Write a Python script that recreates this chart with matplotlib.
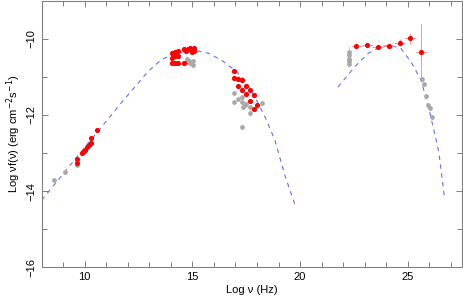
import matplotlib
matplotlib.use("Agg")
import matplotlib.pyplot as plt
from matplotlib.ticker import MultipleLocator

plt.rcParams['font.family'] = ['Liberation Sans', 'DejaVu Sans']

# Radio (red)
radio_x = [9.64, 9.64, 9.85, 9.95, 10.0, 10.1, 10.2, 10.29, 10.29, 10.57]
radio_y = [-13.26, -13.17, -12.99, -12.95, -12.91, -12.84, -12.80, -12.75, -12.60, -12.40]
# Optical / IR (red)
opt_x = [14.04, 14.20, 14.32, 14.04, 14.20, 14.32, 14.04, 14.20, 14.32,
         14.63, 14.78, 14.89, 15.06, 14.69, 14.97, 15.06, 14.63]
opt_y = [-10.38, -10.34, -10.32, -10.50, -10.46, -10.45, -10.65, -10.64, -10.64,
         -10.26, -10.26, -10.24, -10.24, -10.32, -10.35, -10.31, -10.65]
# X-ray (red)
xr_x = [16.91, 16.91, 17.10, 17.28, 17.13, 17.31, 17.47, 17.47, 17.67, 17.84, 17.67, 17.86, 18.02]
xr_y = [-10.85, -11.03, -11.05, -11.09, -11.25, -11.34, -11.25, -11.46, -11.35, -11.48, -11.64, -11.85, -11.75]
# Gamma-ray (red)
gam_x = [22.61, 23.12, 23.61, 24.12, 24.62, 25.12, 25.62]
gam_y = [-10.18, -10.16, -10.22, -10.19, -10.10, -9.99, -10.34]
gam_xerr = [0.25, 0.25, 0.25, 0.25, 0.25, 0.25, 0.26]
gam_yerr_lo = [0.04, 0.04, 0.05, 0.05, 0.08, 0.15, 0.75]
gam_yerr_hi = [0.04, 0.04, 0.05, 0.05, 0.08, 0.15, 0.73]

# Archival (gray)
gray_x = [8.56, 9.10, 9.64,
          14.74, 14.85, 15.05, 15.05, 14.89, 14.74,
          16.91, 16.94, 17.13, 17.28, 17.31, 17.44, 17.67, 17.67, 18.21, 17.31, 17.36, 17.51,
          22.27, 22.27, 22.27, 22.27, 22.27,
          25.65, 25.74, 25.85, 25.94, 26.02, 26.12]
gray_y = [-13.71, -13.49, -13.32,
          -10.52, -10.59, -10.59, -10.70, -10.65, -10.61,
          -11.42, -11.66, -11.57, -11.53, -11.66, -11.75, -11.79, -11.96, -11.70, -12.31, -11.80, -11.72,
          -10.36, -10.44, -10.52, -10.59, -10.67,
          -11.07, -11.20, -11.50, -11.75, -11.83, -12.05]

# Model curves
sync_x = [8.0, 9.34, 10.5, 11.73, 12.96, 13.58, 14.35, 15.12, 15.74,
          16.36, 16.98, 17.44, 17.90, 18.37, 18.83, 19.29, 19.75]
sync_y = [-14.24, -13.31, -12.51, -11.66, -10.85, -10.54, -10.36, -10.31, -10.38,
          -10.57, -10.83, -11.09, -11.53, -12.05, -12.66, -13.58, -14.34]
ic_x = [21.76, 22.53, 23.15, 23.76, 24.23, 24.69, 25.15, 25.62, 26.00, 26.39, 26.47, 26.70]
ic_y = [-11.27, -10.74, -10.39, -10.20, -10.18, -10.26, -10.61, -11.09, -11.88, -12.84, -13.10, -14.15]

fig = plt.figure(figsize=(4.63, 3.00), dpi=100)
ax = fig.add_axes([0.090, 0.109, 0.907, 0.889])

model_kw = dict(color='#6a6aff', lw=0.8, ls=(0, (4, 4)))
ax.plot(sync_x, sync_y, **model_kw)
ax.plot(ic_x, ic_y, **model_kw)

ax.errorbar(gray_x, gray_y, yerr=0.06, fmt='o', ms=2.4, color='#a8a8a8',
            ecolor='#d0d0d0', elinewidth=0.6, capsize=0, zorder=2)
ax.errorbar([22.27], [-10.44], yerr=[[0.0], [0.25]], fmt='none', ecolor='#c8c8c8',
            elinewidth=0.6, zorder=2)
red_kw = dict(fmt='o', ms=2.7, color='#ff0000', ecolor='#ff8080', elinewidth=0.6, capsize=0, zorder=3)
ax.errorbar(radio_x, radio_y, yerr=0.04, **red_kw)
ax.errorbar(opt_x, opt_y, yerr=0.03, xerr=0.05, **red_kw)
ax.errorbar(xr_x, xr_y, yerr=0.06, xerr=0.08, **red_kw)
ax.errorbar(gam_x, gam_y, yerr=[gam_yerr_lo, gam_yerr_hi], xerr=gam_xerr, **red_kw)

ax.set_xlim(8, 27.5)
ax.set_ylim(-16, -9)
ax.xaxis.set_major_locator(MultipleLocator(5))
ax.xaxis.set_minor_locator(MultipleLocator(1))
ax.yaxis.set_major_locator(MultipleLocator(2))
ax.yaxis.set_minor_locator(MultipleLocator(1))
ax.tick_params(which='both', direction='in', top=True, right=True, color='#808080',
               labelsize=8)
ax.tick_params(which='major', length=4.5, width=0.7)
ax.tick_params(which='minor', length=3.5, width=0.7)
for lab in ax.get_yticklabels():
    lab.set_rotation(90)
    lab.set_va('center')
for s in ax.spines.values():
    s.set_color('#808080')
    s.set_linewidth(0.8)

ax.set_xlabel('Log ν (Hz)', fontsize=8, labelpad=2)
ax.set_ylabel('Log νf(ν) (erg cm$^{-2}$s$^{-1}$)', fontsize=8, labelpad=3)

fig.savefig('out.png', dpi=100)
